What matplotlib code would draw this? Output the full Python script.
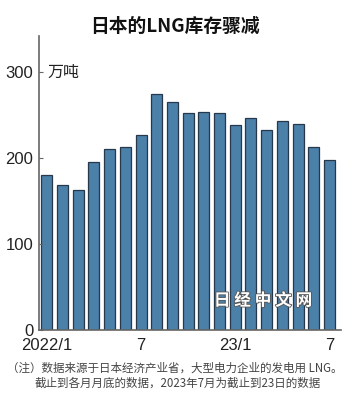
import numpy as np
import matplotlib
matplotlib.use("Agg")
import matplotlib.pyplot as plt
import matplotlib.patheffects as pe

plt.rcParams['font.family'] = ['Noto Sans CJK SC', 'DejaVu Sans']

# monthly LNG stock, 10k tonnes (2022/1 .. 2023/7)
months = ["2022/1", "2", "3", "4", "5", "6", "7", "8", "9", "10", "11", "12",
          "23/1", "2", "3", "4", "5", "6", "7"]
stock = [180, 169, 163, 195, 210, 213, 227, 274, 265, 252, 254, 252,
         238, 247, 232, 243, 240, 213, 198]
shown_ticks = [0, 6, 12, 18]
yticks = [0, 100, 200, 300]

num_font = ['Liberation Sans', 'DejaVu Sans']

fig = plt.figure(figsize=(3.5, 4.05), dpi=100)
ax = fig.add_axes([0.111, 0.186, 0.863, 0.725])

x = np.arange(len(stock))
ax.bar(x, stock, width=0.7, color="#4b80a9", edgecolor="#26384a", linewidth=0.9)

ax.set_xlim(-0.51, 18.73)
ax.set_ylim(0, 342)
ax.set_yticks(yticks)
ax.set_yticklabels([str(v) for v in yticks], family=num_font, fontsize=12, color="#222")
ax.set_xticks([x[i] for i in shown_ticks])
ax.set_xticklabels([months[i] for i in shown_ticks], family=num_font, fontsize=12, color="#222")
ax.tick_params(axis="y", direction="in", length=3, width=0.8, color="#666", pad=4)
ax.tick_params(axis="x", length=0, pad=6)

for s in ["top", "right"]:
    ax.spines[s].set_visible(False)
for s in ["left", "bottom"]:
    ax.spines[s].set_color("#666")
    ax.spines[s].set_linewidth(1.2)

ax.text(0.03, 300, "万吨", fontsize=11.5, color="#222", va="center", ha="left",
        transform=ax.get_yaxis_transform())

fig.text(0.5, 0.935, "日本的LNG库存骤减", fontsize=13.5, fontweight="bold",
         ha="center", va="center", color="#111")

wm = fig.text(0.751, 0.258, "日 经 中 文 网", fontsize=12, fontweight="bold",
              ha="center", va="center", color="white")
wm.set_path_effects([pe.withStroke(linewidth=1.2, foreground="#555")])

fig.text(0.02, 0.092, "（注）数据来源于日本经济产业省，大型电力企业的发电用 LNG。",
         fontsize=8.3, color="#444", ha="left", va="center")
fig.text(0.098, 0.055, "截止到各月月底的数据，2023年7月为截止到23日的数据",
         fontsize=8.3, color="#444", ha="left", va="center")

fig.savefig("out.png", dpi=100)
